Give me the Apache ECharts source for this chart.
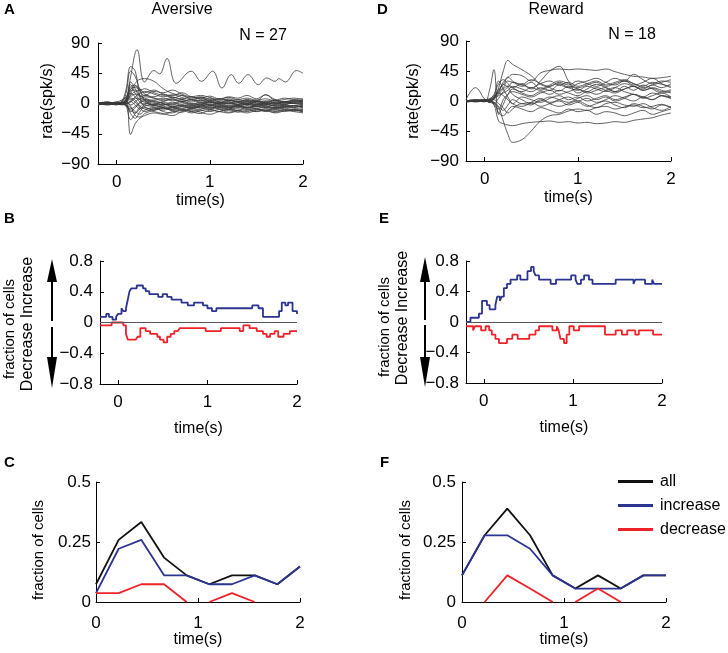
<!DOCTYPE html>
<html lang="en">
<head>
<meta charset="UTF-8">
<title>index</title>
<script src="https://cdn.jsdelivr.net/npm/echarts@6.0.0/dist/echarts.min.js"></script>
<style>
  html, body { margin: 0; padding: 0; background: #fff; }
  #main { width: 728px; height: 653px; }
</style>
</head>
<body>
<div id="main"></div>
<script type="text/javascript">
// ---- data ----
var timeTicks = [0, 1, 2];

// A / D: smoothed firing-rate traces (spk/s), sampled on this time grid (s)
var traceTimes = [-0.2,-0.1,0,0.05,0.1,0.15,0.2,0.25,0.3,0.4,0.5,0.6,0.7,0.8,0.9,1.0,1.1,1.2,1.3,1.4,1.5,1.6,1.7,1.8,1.9,2.0];

// the oscillating aversive unit has its own sample times
var oscTimes = [-0.2,-0.1,0,0.1,0.15,0.22,0.3,0.4,0.46,0.54,0.64,0.8,0.91,1.03,1.13,1.23,1.31,1.41,1.52,1.61,1.7,1.74,1.81,1.93,2.0];
var oscRates = [2,-1,1,3,40,80,32,49,44,67,30,48,33,48,23,43,30,43,28,38,33,37,32,49,45];

var aversiveRates = [
  [0,1,-1,2,20,55,48,10,-5,-8,-3,2,-4,-6,-2,3,-1,-5,-2,4,1,-3,-6,-2,3,1],
  [1,-2,0,1,15,48,40,20,5,-2,-6,-10,-8,-12,-9,-5,-8,-10,-6,-9,-12,-8,-10,-7,-9,-8],
  [-1,1,2,5,8,-46,-30,-22,-18,-14,-16,-12,-10,-14,-11,-8,-12,-9,-13,-10,-8,-11,-9,-12,-10,-11],
  [0,2,-1,3,10,20,30,36,37,33,22,15,12,8,10,6,4,7,3,5,2,4,1,3,2,4],
  [2,-1,1,0,8,25,27,18,12,18,16,20,14,10,12,9,6,10,8,12,7,13,5,8,6,7],
  [-2,0,1,-1,6,22,24,20,22,16,12,10,6,4,8,3,1,5,2,-2,3,0,-3,2,0,3],
  [1,-1,0,2,4,12,18,20,14,10,14,8,12,6,4,8,2,0,4,-1,3,1,4,0,5,2],
  [0,1,-2,0,-4,-10,-14,-8,-2,4,0,-4,-2,-6,-3,-8,-4,-6,-10,-5,-8,-12,-6,-9,-10,-12],
  [-1,0,2,1,-2,-6,-12,-16,-10,-6,-12,-14,-9,-12,-15,-10,-12,-14,-11,-8,-12,-10,-14,-11,-9,-13],
  [1,2,0,-1,3,8,5,-4,-8,-12,-15,-18,-12,-10,-13,-16,-12,-9,-11,-14,-10,-8,-12,-9,-11,-10],
  [0,-1,1,0,5,15,10,2,-2,-5,-8,-4,-10,-8,-6,-9,-5,-7,-3,-6,-8,-4,-7,-5,-3,-6],
  [-1,1,-1,2,-3,-24,-15,-5,0,-3,-6,-8,-4,-2,-5,-3,0,-4,-2,-6,-3,-1,-4,-2,-5,-3],
  [2,0,1,-1,4,10,14,12,8,5,8,4,6,2,5,1,3,-1,2,0,-2,1,-1,2,0,-1],
  [0,-2,0,1,2,18,20,12,6,3,0,-2,1,-3,0,2,-1,1,-2,0,3,-1,1,-2,1,0],
  [-1,1,0,-2,-1,4,8,6,10,8,6,9,7,10,6,4,7,5,3,6,4,13,6,3,5,4],
  [1,0,-1,1,-2,-8,-4,2,6,2,-2,0,4,-1,2,-2,-4,0,-3,-1,-4,-2,0,-3,-5,-2],
  [0,1,0,-1,1,6,2,-6,-12,-8,-10,-6,-8,-4,-7,-5,-8,-6,-4,-7,-5,-6,-8,-5,-7,-9],
  [-2,0,1,0,3,-4,-18,-20,-15,-10,-6,-9,-5,-8,-4,-2,-6,-3,-5,-1,-4,-6,-2,-4,-3,-5],
  [1,-1,2,0,2,14,26,22,16,20,14,12,16,10,8,11,7,9,6,8,5,7,4,6,8,6],
  [0,0,-1,1,0,2,10,15,18,14,10,13,9,6,9,5,7,4,6,3,5,2,4,1,3,5],
  [-1,2,0,-1,-2,-12,-6,0,4,0,-4,-6,-3,-7,-4,-1,-5,-8,-4,-6,-2,-5,-7,-4,-6,-4],
  [2,-1,0,1,1,-2,2,8,4,-2,2,-1,3,0,-2,1,-1,2,-1,1,-1,0,2,-1,1,0],
  [0,1,1,-1,2,28,15,5,2,-3,-1,-5,-2,-4,-1,-6,-3,-5,-7,-3,-5,-2,-4,-6,-3,-7],
  [-1,0,-2,1,-1,-15,-22,-12,-6,-10,-7,-11,-13,-8,-10,-12,-9,-13,-10,-12,-9,-11,-13,-10,-12,-14],
  [1,-1,0,0,4,32,22,10,12,8,4,7,3,6,2,4,1,5,2,4,0,3,5,2,4,3],
  [0,2,-1,0,-1,3,-2,-8,-4,-1,3,6,2,-1,1,-3,0,3,-1,2,-2,1,-1,2,0,-2]
];

var rewardRates = [
  [0,1,0,2,5,20,45,61,55,47,38,25,20,15,22,18,14,20,16,12,18,22,16,19,14,17],
  [-1,0,1,-2,-4,-10,-30,-50,-62,-58,-45,-30,-22,-20,-15,-12,-14,-10,-8,-12,-9,-6,-10,-8,-5,-10],
  [0,-1,1,0,-5,-30,-34,-36,-37,-34,-32,-31,-30,-32,-31,-33,-32,-34,-33,-31,-32,-29,-27,-25,-21,-18],
  [1,0,-1,15,47,-20,-5,10,18,12,8,14,10,16,12,8,14,10,16,20,14,10,6,12,8,4],
  [2,20,3,-2,5,12,25,22,28,24,20,26,30,24,28,22,26,30,24,28,32,26,22,28,25,22],
  [0,2,1,3,8,15,28,35,40,38,30,42,46,48,47,48,47,46,48,44,40,37,36,34,35,37],
  [1,0,2,1,4,10,18,22,20,26,18,30,45,52,30,12,18,25,20,14,22,16,24,18,12,15],
  [0,-1,0,2,6,14,20,30,28,25,32,26,22,28,24,30,26,22,28,34,30,40,32,26,30,28],
  [-1,1,0,-1,3,8,12,16,22,18,14,20,16,24,20,26,30,34,28,24,30,26,20,24,28,32],
  [1,0,-1,1,-2,-8,-14,-6,2,-4,-2,-8,-4,0,-6,-2,-8,-4,0,-6,-10,-4,-8,-12,-6,-10],
  [0,1,2,0,4,12,8,2,-4,6,2,-2,4,8,2,6,0,4,8,2,6,10,4,8,12,6],
  [-2,0,1,3,-6,-12,2,10,14,10,6,12,16,10,14,18,12,16,20,14,18,22,16,20,16,12],
  [1,-1,0,2,10,26,32,26,20,14,20,16,22,26,20,16,22,18,14,20,26,22,18,24,20,26],
  [0,1,-1,0,2,-4,-10,-18,-12,-4,-6,2,-4,-8,-4,0,-6,-10,-4,-2,-6,-8,-4,-10,-14,-8],
  [-1,0,2,-2,6,30,18,6,-4,-8,-2,4,-2,2,6,0,4,-2,2,8,4,0,6,2,8,4],
  [0,2,0,1,-3,4,14,20,10,2,-4,0,6,2,-2,4,8,2,6,0,4,10,6,2,8,6],
  [1,-1,0,1,4,18,24,36,30,22,28,18,24,30,26,20,24,28,22,26,30,24,28,34,26,20],
  [0,0,1,-1,-2,-18,-22,-14,-8,-12,-16,-10,-14,-18,-12,-16,-14,-20,-16,-18,-22,-18,-14,-20,-16,-12]
];

// B / E: number of cells with increased / decreased rate, from each time on
var aversiveCells = 27;
var bIncT = [-0.2,-0.13,-0.1,-0.06,-0.02,0.0,0.04,0.06,0.09,0.11,0.13,0.15,0.21,0.28,0.31,0.35,0.45,0.5,0.55,0.6,0.71,0.78,0.85,0.95,1.0,1.05,1.1,1.5,1.57,1.62,1.8,1.83,1.87,1.9,1.95,2.0];
var bIncK = [2,3,2,1,2,3,5,4,5,8,11,12,13,12,11,10,9,10,9,8,7,6,7,6,5,4,5,6,5,2,4,7,6,7,4,3];
var bDecT = [-0.2,-0.07,0.06,0.09,0.11,0.2,0.22,0.25,0.31,0.36,0.44,0.47,0.51,0.55,0.59,0.63,0.67,0.69,0.98,1.15,1.36,1.4,1.47,1.55,1.62,1.66,1.7,1.75,1.79,1.85,1.92,2.0];
var bDecK = [1,0,1,4,6,6,5,2,3,4,5,6,7,5,4,3,3,2,3,2,3,1,2,3,4,5,4,3,5,4,3,3];

var rewardCells = 18;
var eIncT = [-0.2,-0.15,-0.055,-0.02,0.035,0.065,0.13,0.15,0.18,0.2,0.225,0.26,0.3,0.375,0.41,0.49,0.53,0.56,0.58,0.62,0.75,0.81,0.98,1.03,1.05,1.09,1.125,1.18,1.22,1.48,1.68,1.70,1.81,1.89,1.91,2.0];
var eIncK = [0,1,2,5,4,3,4,6,5,6,8,9,10,11,10,12,13,12,11,10,9,10,11,10,9,10,11,10,9,10,9,10,9,10,9,9];
var eDecT = [-0.2,-0.12,-0.1,-0.03,0.02,0.06,0.09,0.13,0.17,0.2,0.26,0.32,0.38,0.41,0.51,0.58,0.62,0.73,0.77,0.82,0.84,0.86,0.9,0.93,0.96,1.01,1.07,1.36,1.48,1.55,1.61,1.7,1.74,1.9,2.0];
var eDecK = [1,2,1,2,1,2,3,4,5,5,4,3,4,4,3,2,1,1,2,1,2,4,5,3,1,2,1,3,2,3,2,3,2,3,3];

// C / F: fraction of cells, per time bin
var binTimes = [0,0.222,0.444,0.667,0.889,1.111,1.333,1.556,1.778,2.0];
var cAll = [0.074,0.259,0.333,0.185,0.111,0.074,0.111,0.111,0.074,0.148];
var cInc = [0.037,0.222,0.259,0.111,0.111,0.074,0.074,0.111,0.074,0.148];
var cDec = [[0,0.037],[0.222,0.037],[0.444,0.074],[0.667,0.074],[0.889,0],[1.0,'-'],[1.111,0],[1.333,0.037],[1.556,0]];
var fAll = [0.111,0.278,0.389,0.278,0.111,0.056,0.111,0.056,0.111,0.111];
var fInc = [0.111,0.278,0.278,0.222,0.111,0.056,0.056,0.056,0.111,0.111];
var fDec = [[0.222,0],[0.444,0.111],[0.667,0.056],[0.889,0],[1.0,'-'],[1.111,0],[1.333,0.056],[1.556,0]];

// ---- drawing ----
var FONT = 'Liberation Sans, Arial, Helvetica, sans-serif';
var BLUE = '#2b3590', RED = '#ee2229', BLACK = '#111111', TRACE = '#3a3a3a';

function minus(v) { return v < 0 ? '\u2212' + String(-v) : String(v); }

function pairs(ts, vs) { return ts.map(function (t, i) { return [t, vs[i]]; }); }
function fractions(ts, ks, n, sign) { return ts.map(function (t, i) { return [t, sign * ks[i] / n]; }); }

function xAx(idx, min, margin, gap) {
  return {
    gridIndex: idx, type: 'value', min: min, max: 2,
    name: 'time(s)', nameLocation: 'middle', nameGap: gap, nameMoveOverlap: false,
    nameTextStyle: { fontSize: 16, color: '#000', fontFamily: FONT },
    axisLine: { show: true, onZero: false, lineStyle: { color: '#000', width: 1 } },
    axisTick: { show: true, inside: true, length: 4, customValues: timeTicks, lineStyle: { color: '#000' } },
    axisLabel: { customValues: timeTicks, margin: margin, fontSize: 17, color: '#000', fontFamily: FONT },
    splitLine: { show: false }
  };
}
function yAx(idx, min, max, step, margin) {
  return {
    gridIndex: idx, type: 'value', min: min, max: max, interval: step,
    axisLine: { show: true, onZero: false, lineStyle: { color: '#000', width: 1 } },
    axisTick: { show: true, inside: true, length: 4, lineStyle: { color: '#000' } },
    axisLabel: { margin: margin, fontSize: 17, color: '#000', fontFamily: FONT, formatter: minus },
    splitLine: { show: false }
  };
}

var series = [];
function trace(idx, data) {
  series.push({
    type: 'line', xAxisIndex: idx, yAxisIndex: idx, data: data, smooth: 0.4,
    symbol: 'none', silent: true, lineStyle: { width: 0.8, color: TRACE }, z: 2
  });
}
aversiveRates.forEach(function (r) { trace(0, pairs(traceTimes, r)); });
trace(0, pairs(oscTimes, oscRates));
rewardRates.forEach(function (r) { trace(1, pairs(traceTimes, r)); });

function stepLine(idx, data, color, zero) {
  var s = {
    type: 'line', xAxisIndex: idx, yAxisIndex: idx, data: data, step: 'end',
    symbol: 'none', silent: true, lineStyle: { width: 1.8, color: color }, itemStyle: { color: color }, z: 3
  };
  if (zero) {
    s.markLine = {
      silent: true, symbol: 'none', label: { show: false },
      lineStyle: { color: '#555', width: 1, type: 'solid' }, data: [{ yAxis: 0 }]
    };
  }
  series.push(s);
}
stepLine(2, fractions(bIncT, bIncK, aversiveCells, 1), BLUE, true);
stepLine(2, fractions(bDecT, bDecK, aversiveCells, -1), RED, false);
stepLine(3, fractions(eIncT, eIncK, rewardCells, 1), BLUE, true);
stepLine(3, fractions(eDecT, eDecK, rewardCells, -1), RED, false);

function binLine(idx, name, data, color) {
  series.push({
    type: 'line', name: name, xAxisIndex: idx, yAxisIndex: idx, data: data,
    symbol: 'none', silent: true, lineStyle: { width: 1.8, color: color }, itemStyle: { color: color }, z: 3
  });
}
binLine(4, 'all', pairs(binTimes, cAll), BLACK);
binLine(4, 'increase', pairs(binTimes, cInc), BLUE);
binLine(4, 'decrease', cDec, RED);
binLine(5, 'all', pairs(binTimes, fAll), BLACK);
binLine(5, 'increase', pairs(binTimes, fInc), BLUE);
binLine(5, 'decrease', fDec, RED);

function txt(x, y, s, size, opts) {
  opts = opts || {};
  return {
    type: 'text', x: x, y: y, rotation: opts.rot || 0, silent: true,
    style: {
      text: s, fill: '#000', fontSize: size, fontFamily: FONT, fontWeight: opts.bold ? 'bold' : 'normal',
      textAlign: opts.align || 'center', textVerticalAlign: 'middle', align: opts.align || 'center', verticalAlign: 'middle'
    }
  };
}
function arrow(x, y0, y1, tip) {
  return [
    { type: 'line', silent: true, shape: { x1: x, y1: y0, x2: x, y2: y1 }, style: { stroke: '#000', lineWidth: 2 } },
    { type: 'polygon', silent: true, shape: { points: [[x - 5, y1], [x + 5, y1], [x, tip]] }, style: { fill: '#000' } }
  ];
}
var V = Math.PI / 2;
var graphics = [
  txt(4, 10, 'A', 15, { bold: true, align: 'left' }),
  txt(377, 10, 'D', 15, { bold: true, align: 'left' }),
  txt(4, 219, 'B', 15, { bold: true, align: 'left' }),
  txt(379, 219, 'E', 15, { bold: true, align: 'left' }),
  txt(4, 463, 'C', 15, { bold: true, align: 'left' }),
  txt(380, 463, 'F', 15, { bold: true, align: 'left' }),
  txt(182, 10, 'Aversive', 16),
  txt(556, 10, 'Reward', 16),
  txt(263, 36, 'N = 27', 16),
  txt(632, 35, 'N = 18', 16),
  txt(48, 101, 'rate(spk/s)', 16, { rot: V }),
  txt(414, 101, 'rate(spk/s)', 16, { rot: V }),
  txt(10, 329, 'fraction of cells', 15, { rot: V }),
  txt(28, 324, 'Decrease Increase', 16, { rot: V }),
  txt(385, 327, 'fraction of cells', 15, { rot: V }),
  txt(403, 318, 'Decrease Increase', 16, { rot: V }),
  txt(39, 550, 'fraction of cells', 15, { rot: V }),
  txt(406, 550, 'fraction of cells', 15, { rot: V })
];
graphics = graphics
  .concat(arrow(52, 321, 282, 259))
  .concat(arrow(52, 327, 357, 388))
  .concat(arrow(425, 320, 282, 257))
  .concat(arrow(425, 325, 357, 387));

var option = {
  animation: false,
  backgroundColor: '#fff',
  textStyle: { fontFamily: FONT },
  grid: [
    { left: 98, top: 43, width: 205, height: 121 },
    { left: 466, top: 41, width: 205, height: 120 },
    { left: 100, top: 261, width: 197, height: 123 },
    { left: 466, top: 261, width: 196, height: 122 },
    { left: 96, top: 482, width: 204, height: 120 },
    { left: 462, top: 482, width: 204, height: 120 }
  ],
  xAxis: [xAx(0, -0.2, 10, 29), xAx(1, -0.2, 10, 29), xAx(2, -0.2, 10, 37), xAx(3, -0.2, 10, 37), xAx(4, 0, 13, 30), xAx(5, 0, 13, 30)],
  yAxis: [yAx(0, -90, 90, 45, 8), yAx(1, -90, 90, 45, 7), yAx(2, -0.8, 0.8, 0.4, 7), yAx(3, -0.8, 0.8, 0.4, 7), yAx(4, 0, 0.5, 0.25, 5), yAx(5, 0, 0.5, 0.25, 6)],
  legend: {
    data: ['all', 'increase', 'decrease'], orient: 'vertical', left: 613, top: 468,
    icon: 'rect', itemWidth: 35, itemHeight: 3, itemGap: 7, selectedMode: false,
    textStyle: { fontSize: 16, color: '#000', fontFamily: FONT, lineHeight: 17, padding: [0, 0, 0, 2] }
  },
  graphic: graphics,
  series: series
};

var myChart = echarts.init(document.getElementById('main'));
myChart.setOption(option);
</script>
</body>
</html>
